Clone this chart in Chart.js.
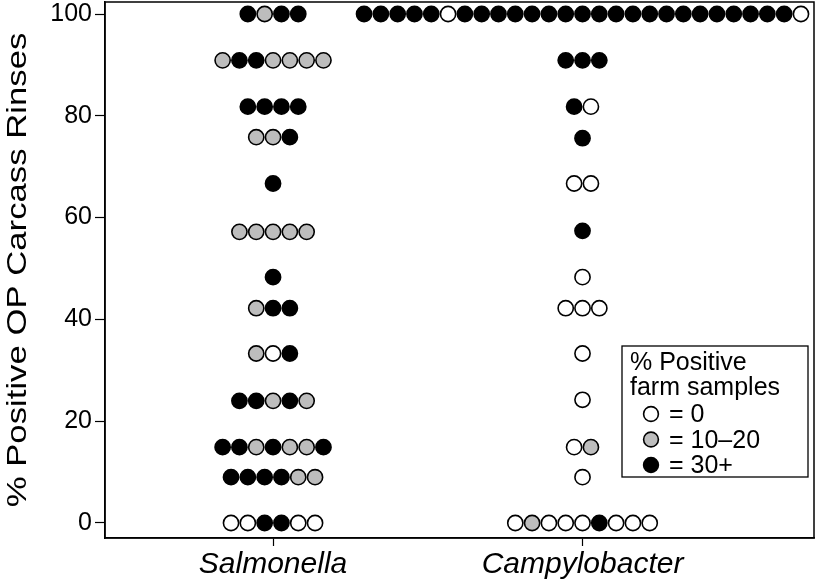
<!DOCTYPE html>
<html>
<head>
<meta charset="utf-8">
<script src="https://cdn.jsdelivr.net/npm/chart.js@4.4.1/dist/chart.umd.min.js"></script>
<style>
  html, body { margin: 0; padding: 0; background: #fff; }
  #wrap { width: 820px; height: 580px; position: relative; }
</style>
</head>
<body>
<div id="wrap"><canvas id="chart"></canvas></div>
<script>
// categories on the x axis
const categories = ['Salmonella', 'Campylobacter'];
const yTicks = [0, 20, 40, 60, 80, 100];
const yTitle = '% Positive OP Carcass Rinses';

// legend groups: % positive farm samples
const groupLabels = ['= 0', '= 10\u201320', '= 30+'];
const groupCodes = ['W', 'G', 'B'];
const groupFills = ['#ffffff', '#bdbdbd', '#000000'];

// one entry per row of dots: % positive OP carcass rinses, and the farm group of each dot (left to right)
const salmonellaLevels = [100, 90.9, 81.8, 75.8, 66.7, 57.2, 48.3, 42.2, 33.3, 24.0, 14.9, 9.0, 0];
const salmonellaGroups = ['BGBB', 'GBBGGGG', 'BBBB', 'GGB', 'B', 'GGGGG', 'B', 'GBB', 'GWB', 'BBGBG', 'BBGBGGB', 'BBBBGG', 'WWBBWW'];

const campyLevels = [100, 90.9, 81.8, 75.6, 66.7, 57.4, 48.3, 42.2, 33.3, 24.2, 14.9, 9.0, 0];
const campyGroups = ['BBBBBWBBBBBBBBBBBBBBBBBBBBW', 'BBB', 'BW', 'B', 'WW', 'B', 'W', 'WWW', 'W', 'W', 'WG', 'W', 'WGWWWBWWW'];

const FONT = '"Liberation Sans", Arial, Helvetica, sans-serif';
const DOT_STEP = 0.0543; // horizontal spacing of stacked dots, in x units

function buildPoints(catIndex, levels, groups) {
    const pts = { W: [], G: [], B: [] };
    levels.forEach((lvl, r) => {
        const row = groups[r];
        const n = row.length;
        for (let i = 0; i < n; i++) {
            pts[row[i]].push({ x: catIndex + 1 + (i - (n - 1) / 2) * DOT_STEP, y: lvl });
        }
    });
    return pts;
}

const salPts = buildPoints(0, salmonellaLevels, salmonellaGroups);
const campyPts = buildPoints(1, campyLevels, campyGroups);

const datasets = groupCodes.map((code, k) => ({
    label: groupLabels[k],
    data: salPts[code].concat(campyPts[code]),
    backgroundColor: groupFills[k],
    borderColor: '#000',
    borderWidth: 1.6,
    pointRadius: 7.6,
    pointHoverRadius: 7.6,
}));

// frame around the plot area + the (slightly stretched) y axis title
const boxPlugin = {
    id: 'box',
    afterDraw(chart) {
        const { ctx, chartArea: a } = chart;
        ctx.save();
        ctx.strokeStyle = '#000';
        ctx.lineWidth = 1.5;
        ctx.strokeRect(a.left, a.top, a.right - a.left, a.bottom - a.top);
        ctx.restore();

        ctx.save();
        ctx.translate(26, (a.top + a.bottom) / 2);
        ctx.rotate(-Math.PI / 2);
        ctx.scale(1.24, 1);
        ctx.font = '28px ' + FONT;
        ctx.fillStyle = '#000';
        ctx.textAlign = 'center';
        ctx.textBaseline = 'alphabetic';
        ctx.fillText(yTitle, 0, 0);
        ctx.restore();
    },
};

// boxed legend with a two-line title, lower right of the plot
const legendPlugin = {
    id: 'farmLegend',
    afterDraw(chart) {
        const { ctx } = chart;
        const x0 = 622, y0 = 346, w = 186, h = 131;
        ctx.save();
        ctx.fillStyle = '#fff';
        ctx.fillRect(x0, y0, w, h);
        ctx.strokeStyle = '#000';
        ctx.lineWidth = 1.3;
        ctx.strokeRect(x0, y0, w, h);
        ctx.fillStyle = '#000';
        ctx.font = '25px ' + FONT;
        ctx.textBaseline = 'alphabetic';
        ctx.textAlign = 'left';
        ctx.fillText('% Positive', x0 + 8, y0 + 24);
        ctx.fillText('farm samples', x0 + 8, y0 + 49);
        chart.data.datasets.forEach((ds, k) => {
            const cy = y0 + 68 + k * 25.5;
            ctx.beginPath();
            ctx.arc(x0 + 29, cy, 7.4, 0, Math.PI * 2);
            ctx.fillStyle = ds.backgroundColor;
            ctx.fill();
            ctx.lineWidth = 1.6;
            ctx.strokeStyle = '#000';
            ctx.stroke();
            ctx.fillStyle = '#000';
            ctx.fillText(ds.label, x0 + 47, cy + 8);
        });
        ctx.restore();
    },
};

new Chart(document.getElementById('chart'), {
    type: 'scatter',
    data: { datasets },
    plugins: [boxPlugin, legendPlugin],
    options: {
        responsive: true,
        maintainAspectRatio: false,
        animation: false,
        layout: { autoPadding: false, padding: { top: 2, right: 6, left: 0, bottom: 0 } },
        plugins: {
            legend: { display: false },
            tooltip: { enabled: false },
        },
        scales: {
            x: {
                type: 'linear',
                min: 0.457,
                max: 2.748,
                afterBuildTicks: (s) => { s.ticks = categories.map((c, i) => ({ value: i + 1 })); },
                afterFit: (s) => {
                    s.height = 42;
                    s.paddingLeft = 0;
                    s.paddingRight = 0;
                },
                ticks: {
                    autoSkip: false,
                    maxRotation: 0,
                    padding: 1,
                    color: '#000',
                    font: { family: FONT, size: 30, style: 'italic' },
                    callback: (v) => categories[Math.round(v) - 1] || '',
                },
                grid: { drawOnChartArea: false, drawTicks: true, tickLength: 8, color: '#000', tickWidth: 1.2 },
                border: { display: true, color: '#000', width: 1.5 },
            },
            y: {
                type: 'linear',
                min: -2.95,
                max: 102.36,
                afterBuildTicks: (s) => { s.ticks = yTicks.map((v) => ({ value: v })); },
                afterFit: (s) => {
                    s.width = 105;
                    s.paddingTop = 0;
                    s.paddingBottom = 0;
                },
                ticks: {
                    padding: 3,
                    color: '#000',
                    font: { family: FONT, size: 25 },
                },
                grid: { drawOnChartArea: false, drawTicks: true, tickLength: 10, color: '#000', tickWidth: 1.2 },
                border: { display: true, color: '#000', width: 1.5 },
            },
        },
    },
});
</script>
</body>
</html>
